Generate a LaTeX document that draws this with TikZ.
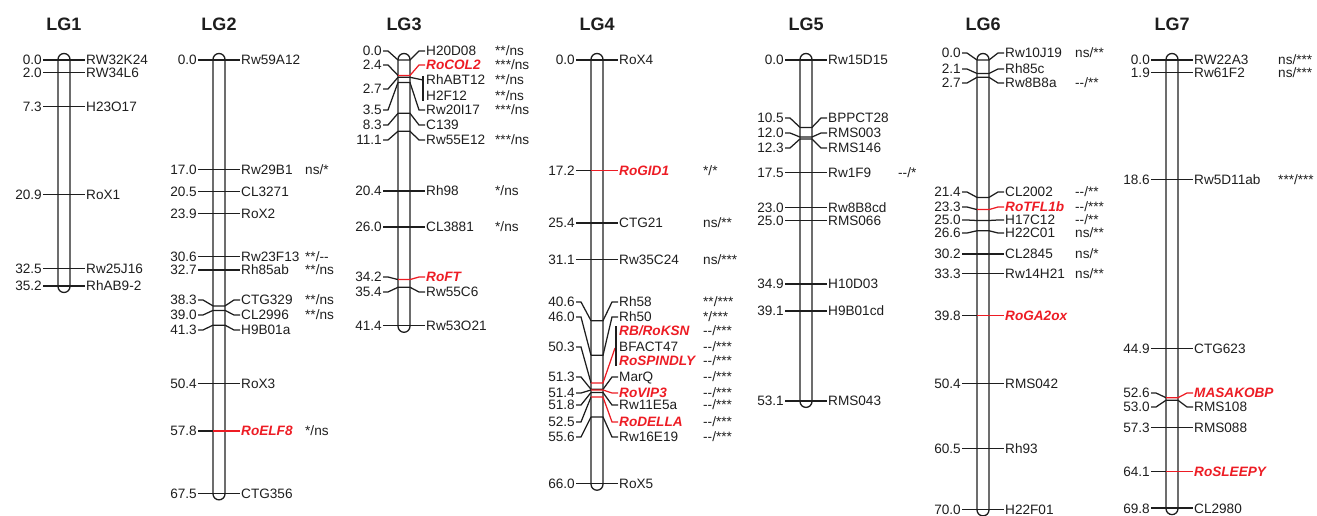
\documentclass[tikz,border=0pt]{standalone}
\usepackage{fontspec}
\setmainfont{Liberation Sans}
\definecolor{mred}{RGB}{237,28,36}
\definecolor{lc}{RGB}{30,30,30}
\newcommand\lblfont{\fontsize{13.6}{15}\selectfont}
\newcommand\mk[7]{%
 \pgfmathsetmacro\mkby{60+6.42*#2}%
 \def\mkly{#3}\ifx\mkly\empty\let\mkly\mkby\fi
 \node[num] (#1n) at ({\cx-22},\mkly) {#4};
 \node[nm,nm #6] (#1m) at ({\cx+22},\mkly) {#5};
 \coordinate (#1L) at ({\cx-6},\mkby);
 \coordinate (#1R) at ({\cx+6},\mkby);
 \draw[tick] ([xshift=1pt]#1n.east) -- ++(5,0) -- (#1L);
 \draw[tick,ln #6] (#1L) -- (#1R) -- ([xshift=-7pt]#1m.west) -- ([xshift=-1pt]#1m.west);
 \ifx\relax#7\relax\else\node[ann] (#1a) at (\ax,\mkly) {#7};\fi
}
\newcommand\chrom[3]{%
 \draw[bar] ({#1-6},{60-6.5}) rectangle ({#1+6},{60+6.42*#2+6.5});
 \node[title] (#3) at (#1,24) {#3};
}
\tikzset{
 lbl/.style={font=\lblfont, inner sep=0pt, text height=9.8pt, text depth=0pt, text=lc},
 num/.style={lbl, anchor=east},
 nm/.style={lbl, anchor=west},
 ann/.style={lbl, anchor=west},
 nm r/.style={text=mred, font=\lblfont\bfseries\itshape},
 nm k/.style={},
 ln r/.style={draw=mred},
 ln k/.style={},
 tick/.style={line width=1.25pt, draw=lc},
 bar/.style={line width=1.3pt, draw=lc, rounded corners=6pt},
 title/.style={font=\fontsize{18}{20}\selectfont\bfseries, text=lc},
}
\begin{document}
\begin{tikzpicture}[x=1pt,y=-1pt]
\useasboundingbox (0,0) rectangle (1317,516);
% ---------------- LG1
\chrom{64}{35.2}{LG1}
\def\cx{64}\def\ax{0}
\mk{a1}{0}{}{0.0}{RW32K24}{k}{}
\mk{a2}{2.0}{}{2.0}{RW34L6}{k}{}
\mk{a3}{7.3}{}{7.3}{H23O17}{k}{}
\mk{a4}{20.9}{}{20.9}{RoX1}{k}{}
\mk{a5}{32.5}{}{32.5}{Rw25J16}{k}{}
\mk{a6}{35.2}{}{35.2}{RhAB9-2}{k}{}
% ---------------- LG2
\chrom{219}{67.5}{LG2}
\def\cx{219}\def\ax{305}
\mk{b1}{0}{}{0.0}{Rw59A12}{k}{}
\mk{b2}{17.0}{}{17.0}{Rw29B1}{k}{ns/*}
\mk{b3}{20.5}{}{20.5}{CL3271}{k}{}
\mk{b4}{23.9}{}{23.9}{RoX2}{k}{}
\mk{b5}{30.6}{}{30.6}{Rw23F13}{k}{**/-{}-}
\mk{b6}{32.7}{}{32.7}{Rh85ab}{k}{**/ns}
\mk{b7}{38.3}{300}{38.3}{CTG329}{k}{**/ns}
\mk{b8}{39.0}{315}{39.0}{CL2996}{k}{**/ns}
\mk{b9}{41.3}{330}{41.3}{H9B01a}{k}{}
\mk{b10}{50.4}{}{50.4}{RoX3}{k}{}
\mk{b11}{57.8}{}{57.8}{RoELF8}{r}{*/ns}
\mk{b12}{67.5}{}{67.5}{CTG356}{k}{}
% ---------------- LG3
\chrom{404}{41.4}{LG3}
\def\cx{404}\def\ax{495}
\mk{c1}{0}{51}{0.0}{H20D08}{k}{**/ns}
\mk{c2}{2.4}{65}{2.4}{RoCOL2}{r}{***/ns}
\node[num] (c3n) at (382,89) {2.7};
\node[nm] (c3m) at (426,80) {RhABT12};
\node[nm] (c4m) at (426,96) {H2F12};
\node[ann] (c3a) at (495,80) {**/ns};
\node[ann] (c4a) at (495,96) {**/ns};
\coordinate (c3L) at (398,77.3);
\coordinate (c3R) at (410,77.3);
\coordinate (c3c) at (423,80);
\coordinate (c3t) at (423,76);
\coordinate (c3b) at (423,101);
\draw[tick] ([xshift=1pt]c3n.east) -- ++(5,0) -- (c3L);
\draw[tick] (c3L) -- (c3R) -- (c3c);
\draw[tick] (c3t) -- (c3b);
\mk{c5}{3.5}{110}{3.5}{Rw20I17}{k}{***/ns}
\mk{c6}{8.3}{125}{8.3}{C139}{k}{}
\mk{c7}{11.1}{140}{11.1}{Rw55E12}{k}{***/ns}
\mk{c8}{20.4}{}{20.4}{Rh98}{k}{*/ns}
\mk{c9}{26.0}{}{26.0}{CL3881}{k}{*/ns}
\mk{c10}{34.2}{277}{34.2}{RoFT}{r}{}
\mk{c11}{35.4}{292}{35.4}{Rw55C6}{k}{}
\mk{c12}{41.4}{}{41.4}{Rw53O21}{k}{}
% ---------------- LG4
\chrom{597}{66.0}{LG4}
\def\cx{597}\def\ax{703}
\mk{d1}{0}{}{0.0}{RoX4}{k}{}
\mk{d2}{17.2}{}{17.2}{RoGID1}{r}{*/*}
\mk{d3}{25.4}{}{25.4}{CTG21}{k}{ns/**}
\mk{d4}{31.1}{}{31.1}{Rw35C24}{k}{ns/***}
\mk{d5}{40.6}{302}{40.6}{Rh58}{k}{**/***}
\mk{d6}{46.0}{317}{46.0}{Rh50}{k}{*/***}
\node[num] (d7n) at (575,347) {50.3};
\node[nm,nm r] (d7m) at (619,331) {RB/RoKSN};
\node[nm] (d8m) at (619,347) {BFACT47};
\node[nm,nm r] (d9m) at (619,361) {RoSPINDLY};
\node[ann] (d7a) at (703,331) {-{}-/***};
\node[ann] (d8a) at (703,347) {-{}-/***};
\node[ann] (d9a) at (703,361) {-{}-/***};
\coordinate (d7L) at (591,382.9);
\coordinate (d7R) at (603,382.9);
\coordinate (d7c) at (615,348);
\coordinate (d7t) at (616,326);
\coordinate (d7b) at (616,366);
\draw[tick] ([xshift=1pt]d7n.east) -- ++(5,0) -- (d7L);
\draw[tick,ln r] (d7L) -- (d7R) -- (d7c);
\draw[tick] (d7t) -- (d7b);
\mk{d10}{51.3}{377}{51.3}{MarQ}{k}{-{}-/***}
\mk{d11}{51.4}{393}{51.4}{RoVIP3}{r}{-{}-/***}
\mk{d12}{51.8}{405}{51.8}{Rw11E5a}{k}{-{}-/***}
\mk{d13}{52.5}{422}{52.5}{RoDELLA}{r}{-{}-/***}
\mk{d14}{55.6}{437}{55.6}{Rw16E19}{k}{-{}-/***}
\mk{d15}{66.0}{}{66.0}{RoX5}{k}{}
% ---------------- LG5
\chrom{806}{53.1}{LG5}
\def\cx{806}\def\ax{898}
\mk{e1}{0}{}{0.0}{Rw15D15}{k}{}
\mk{e2}{10.5}{118}{10.5}{BPPCT28}{k}{}
\mk{e3}{12.0}{133}{12.0}{RMS003}{k}{}
\mk{e4}{12.3}{148}{12.3}{RMS146}{k}{}
\mk{e5}{17.5}{}{17.5}{Rw1F9}{k}{-{}-/*}
\mk{e6}{23.0}{}{23.0}{Rw8B8cd}{k}{}
\mk{e7}{25.0}{}{25.0}{RMS066}{k}{}
\mk{e8}{34.9}{}{34.9}{H10D03}{k}{}
\mk{e9}{39.1}{}{39.1}{H9B01cd}{k}{}
\mk{e10}{53.1}{}{53.1}{RMS043}{k}{}
% ---------------- LG6
\chrom{983}{70.0}{LG6}
\def\cx{983}\def\ax{1075}
\mk{f1}{0}{53}{0.0}{Rw10J19}{k}{ns/**}
\mk{f2}{2.1}{69}{2.1}{Rh85c}{k}{}
\mk{f3}{2.7}{83}{2.7}{Rw8B8a}{k}{-{}-/**}
\mk{f4}{21.4}{192}{21.4}{CL2002}{k}{-{}-/**}
\mk{f5}{23.3}{207}{23.3}{RoTFL1b}{r}{-{}-/***}
\mk{f6}{25.0}{220}{25.0}{H17C12}{k}{-{}-/**}
\mk{f7}{26.6}{233}{26.6}{H22C01}{k}{ns/**}
\mk{f8}{30.2}{}{30.2}{CL2845}{k}{ns/*}
\mk{f9}{33.3}{}{33.3}{Rw14H21}{k}{ns/**}
\mk{f10}{39.8}{}{39.8}{RoGA2ox}{r}{}
\mk{f11}{50.4}{}{50.4}{RMS042}{k}{}
\mk{f12}{60.5}{}{60.5}{Rh93}{k}{}
\mk{f13}{70.0}{}{70.0}{H22F01}{k}{}
% ---------------- LG7
\chrom{1172}{69.8}{LG7}
\def\cx{1172}\def\ax{1278}
\mk{g1}{0}{}{0.0}{RW22A3}{k}{ns/***}
\mk{g2}{1.9}{}{1.9}{Rw61F2}{k}{ns/***}
\mk{g3}{18.6}{}{18.6}{Rw5D11ab}{k}{***/***}
\mk{g4}{44.9}{}{44.9}{CTG623}{k}{}
\mk{g5}{52.6}{393}{52.6}{MASAKOBP}{r}{}
\mk{g6}{53.0}{407}{53.0}{RMS108}{k}{}
\mk{g7}{57.3}{}{57.3}{RMS088}{k}{}
\mk{g8}{64.1}{}{64.1}{RoSLEEPY}{r}{}
\mk{g9}{69.8}{}{69.8}{CL2980}{k}{}
\end{tikzpicture}
\end{document}
